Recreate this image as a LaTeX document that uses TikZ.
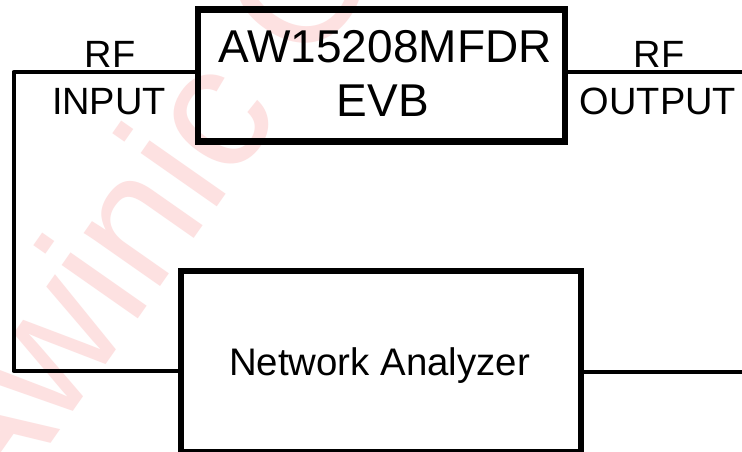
\documentclass[tikz,border=0pt]{standalone}
\usepackage{fontspec}
\setmainfont{Liberation Sans}
\definecolor{wm}{HTML}{FDE1E1}
\tikzset{
  x=1pt,y=-1pt,
  box/.style={draw=black,line width=6.5pt,fill=none,inner sep=0pt,line join=miter,text=black},
  wire/.style={draw=black,line width=4pt,line join=round},
  lab/.style={inner sep=0pt,anchor=base,font=\fontsize{38}{38}\selectfont},
  biglab/.style={inner sep=0pt,anchor=base,font=\fontsize{46}{46}\selectfont},
  mark text/.style={inner sep=0pt,anchor=base west,rotate=55,text=wm,font=\fontsize{176}{176}\selectfont}
}
\begin{document}
\begin{tikzpicture}
\useasboundingbox (0,0) rectangle (742,452);
\clip (0,0) rectangle (742,452);
\fill[white] (0,0) rectangle (742,452);
\node[mark text] (wmk) at (-7,526) {Awinic C};
\node[box,minimum width=367pt,minimum height=132pt] (evb) at (381.5,75.5) {};
\node[box,minimum width=400pt,minimum height=181pt] (na) at (381,361.5) {};
\coordinate (inTop) at (13.5,72);
\coordinate (inBot) at (13.5,371);
\coordinate (outTop) at (742,72);
\coordinate (outBot) at (742,372);
\draw[wire] (evb.west |- inTop) -- (inTop) -- (inBot) -- (na.west |- inBot);
\draw[wire] (evb.east |- outTop) -- (outTop);
\draw[wire] (na.east |- outBot) -- (outBot);
\node[biglab] (evbname) at (385,63) {AW15208MFDR};
\node[biglab] (evbsub) at (383,117) {EVB};
\node[lab,font=\fontsize{38.4}{38.4}\selectfont] (naname) at (379.5,375) {Network Analyzer};
\node[lab] (rfi) at (110,67) {RF};
\node[lab] (inp) at (109,114) {INPUT};
\node[lab] (rfo) at (659,67) {RF};
\node[lab] (outp) at (658,114) {OUTPUT};
\end{tikzpicture}
\end{document}
